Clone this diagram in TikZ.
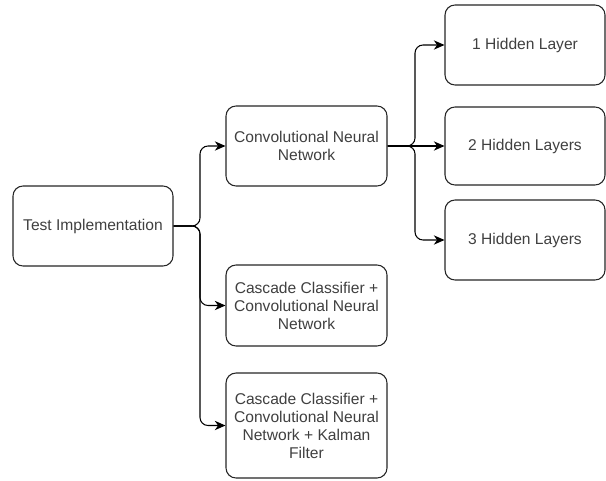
\documentclass[tikz,border=0pt]{standalone}
\usepackage{fontspec}
\setmainfont{Liberation Sans}
\usetikzlibrary{arrows.meta}
\begin{document}
\begin{tikzpicture}[x=0.75pt,y=-0.75pt,
  box/.style={draw=black!85, line width=0.8pt, rounded corners=7.5pt, fill=white,
    inner sep=2pt, align=center, text=black!75,
    font=\fontsize{11.7pt}{13.5pt}\selectfont, anchor=center},
  conn/.style={draw=black, line width=0.8pt, rounded corners=6pt,
    -{Stealth[length=8pt,width=7pt,inset=2.5pt]}}]
\useasboundingbox (0,0) rectangle (606,481);
\node[box, minimum width=120pt, minimum height=60pt] (test) at (93,226) {Test Implementation};
\node[box, minimum width=120.75pt, minimum height=60pt] (cnn) at (306.5,146) {Convolutional Neural\\Network};
\node[box, minimum width=120.75pt, minimum height=60.75pt] (cc) at (306.5,305.5) {Cascade Classifier +\\Convolutional Neural\\Network};
\node[box, minimum width=120.75pt, minimum height=78.75pt] (ck) at (306.5,425.5) {Cascade Classifier +\\Convolutional Neural\\Network + Kalman\\Filter};
\node[box, minimum width=120pt, minimum height=60pt] (h1) at (525,45) {1 Hidden Layer};
\node[box, minimum width=120pt, minimum height=58.5pt] (h2) at (525,146) {2 Hidden Layers};
\node[box, minimum width=120pt, minimum height=60pt] (h3) at (525,240) {3 Hidden Layers};
\coordinate (busA) at (200,226);
\coordinate (busB) at (415,146);
\draw[conn] (test.east) -- (busA) |- (cnn.west);
\draw[conn] (test.east) -- (busA) |- (cc.west);
\draw[conn] (test.east) -- (busA) |- (ck.west);
\draw[conn] (cnn.east) -- (busB) |- (h1.west);
\draw[conn] (cnn.east) -- (h2.west);
\draw[conn] (cnn.east) -- (busB) |- (h3.west);
\end{tikzpicture}
\end{document}
